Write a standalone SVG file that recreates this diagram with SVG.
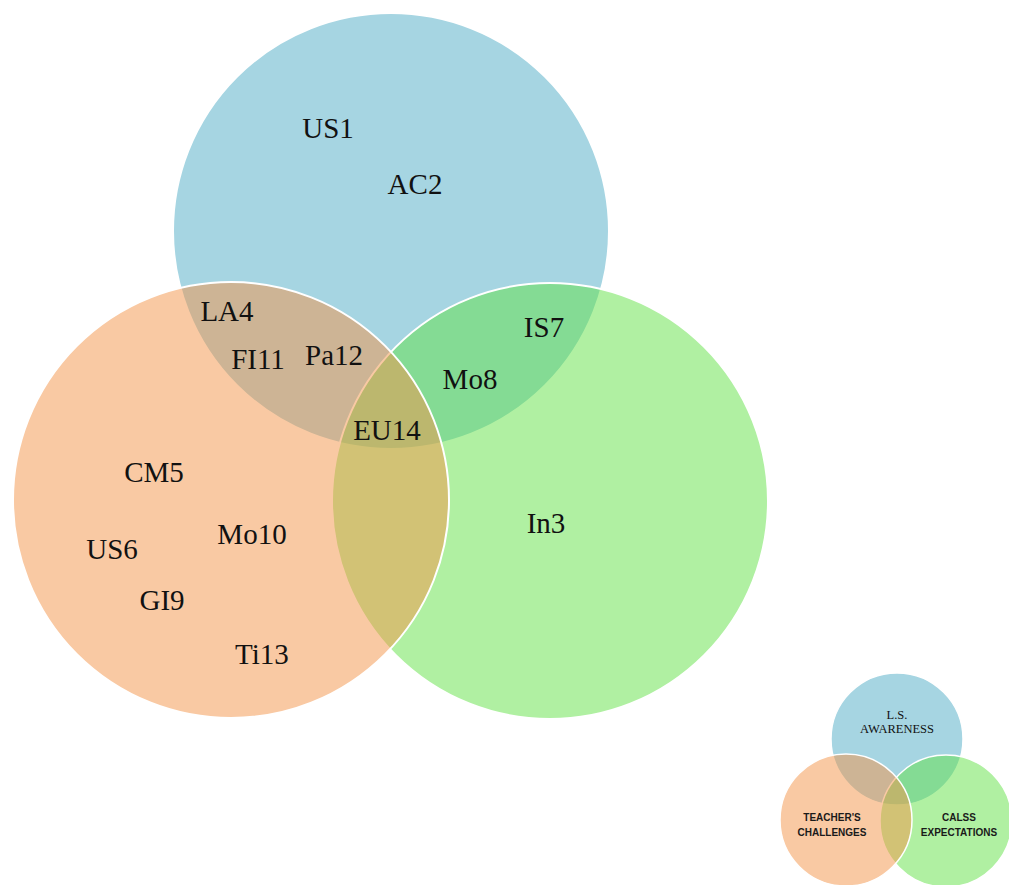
<svg xmlns="http://www.w3.org/2000/svg" width="1009" height="885" viewBox="0 0 1009 885">
  <style>
    .set { stroke: #ffffff; stroke-width: 2; }
    .set-sm { stroke: #ffffff; stroke-width: 1.5; }
    .aqua { fill: rgb(77,171,197); fill-opacity: 0.5; }
    .lime { fill: rgb(97,225,69); fill-opacity: 0.5; }
    .peach { fill: rgb(243,147,71); fill-opacity: 0.5; }
    .lbl { font-family: "Liberation Serif", "Times New Roman", serif; font-size: 29px; fill: #111111; text-anchor: middle; }
    .key-serif { font-family: "Liberation Serif", "Times New Roman", serif; font-size: 12.5px; fill: #111111; text-anchor: middle; }
    .key-sans { font-family: "Liberation Sans", Arial, sans-serif; font-size: 10px; font-weight: bold; fill: #1a1a1a; text-anchor: middle; }
  </style>
  <rect width="1009" height="885" fill="#ffffff"/>

  <!-- main three-set diagram -->
  <g id="ls-awareness"><circle class="set aqua" cx="391" cy="231" r="218"/></g>
  <g id="class-expectations"><circle class="set lime" cx="550" cy="501" r="218"/></g>
  <g id="teachers-challenges"><circle class="set peach" cx="231" cy="500" r="218"/></g>

  <!-- item codes -->
  <g id="items">
    <text class="lbl" x="328" y="138">US1</text>
    <text class="lbl" x="415" y="194">AC2</text>
    <text class="lbl" x="227" y="321">LA4</text>
    <text class="lbl" x="258" y="369">FI11</text>
    <text class="lbl" x="334" y="365">Pa12</text>
    <text class="lbl" x="544" y="337">IS7</text>
    <text class="lbl" x="470" y="389">Mo8</text>
    <text class="lbl" x="387" y="440">EU14</text>
    <text class="lbl" x="154" y="482">CM5</text>
    <text class="lbl" x="252" y="544">Mo10</text>
    <text class="lbl" x="112" y="559">US6</text>
    <text class="lbl" x="162" y="610">GI9</text>
    <text class="lbl" x="262" y="664">Ti13</text>
    <text class="lbl" x="546" y="533">In3</text>
  </g>

  <!-- key diagram -->
  <g id="key-ls-awareness"><circle class="set-sm aqua" cx="897" cy="739" r="66"/></g>
  <g id="key-class-expectations"><circle class="set-sm lime" cx="946" cy="821" r="66"/></g>
  <g id="key-teachers-challenges"><circle class="set-sm peach" cx="846" cy="820" r="66"/></g>
  <g id="key-labels">
    <text class="key-serif" x="897" y="719">L.S.</text>
    <text class="key-serif" x="897" y="733">AWARENESS</text>
    <text class="key-sans" x="832" y="821">TEACHER'S</text>
    <text class="key-sans" x="832" y="836">CHALLENGES</text>
    <text class="key-sans" x="959" y="821">CALSS</text>
    <text class="key-sans" x="959" y="836">EXPECTATIONS</text>
  </g>
</svg>
